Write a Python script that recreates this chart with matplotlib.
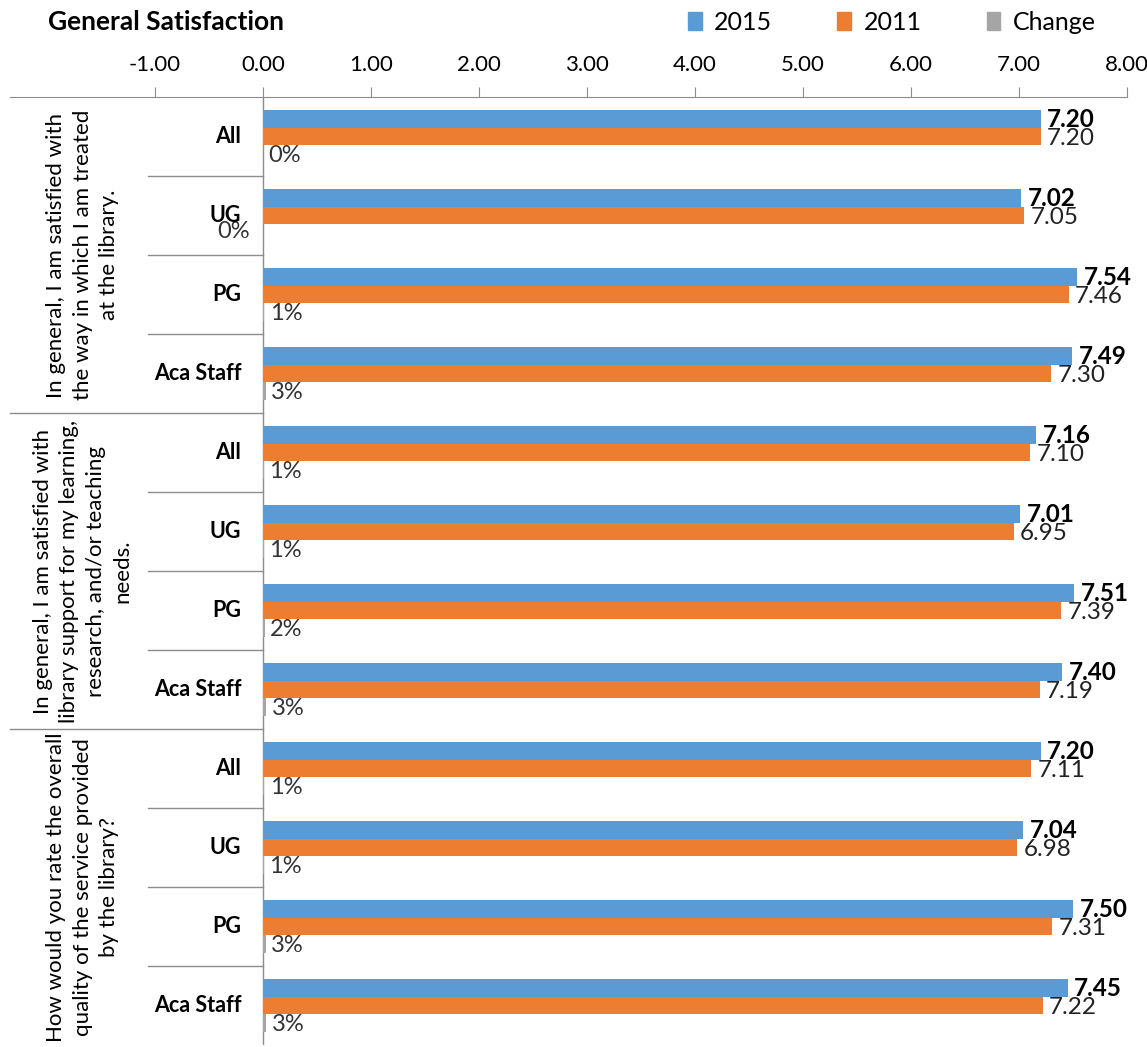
import matplotlib
matplotlib.use('Agg')
import matplotlib.pyplot as plt
from matplotlib.patches import Patch

plt.rcParams['font.family'] = ['Lato', 'DejaVu Sans']

# Data
questions = [
    "In general, I am satisfied with\nthe way in which I am treated\nat the library.",
    "In general, I am satisfied with\nlibrary support for my learning,\nresearch, and/or teaching\nneeds.",
    "How would you rate the overall\nquality of the service provided\nby the library?",
]
groups = ['All', 'UG', 'PG', 'Aca Staff']
scores_2015 = [7.20, 7.02, 7.54, 7.49, 7.16, 7.01, 7.51, 7.40, 7.20, 7.04, 7.50, 7.45]
scores_2011 = [7.20, 7.05, 7.46, 7.30, 7.10, 6.95, 7.39, 7.19, 7.11, 6.98, 7.31, 7.22]
change = [0.000, -0.004, 0.011, 0.026, 0.008, 0.009, 0.016, 0.029, 0.013, 0.009, 0.026, 0.032]
xticks = [-1, 0, 1, 2, 3, 4, 5, 6, 7, 8]

c_2015 = '#5B9BD5'
c_2011 = '#ED7D31'
c_change = '#A5A5A5'
grid_c = '#8C8C8C'

W, H = 1147, 1047
fig = plt.figure(figsize=(W / 100, H / 100), dpi=100)
ax = fig.add_axes([10 / W, 2 / H, (1127 - 10) / W, (1045 - 97) / H])

n = len(scores_2015)
rows = list(range(n))
bh = 0.22

ax.barh([r - bh for r in rows], scores_2015, height=bh, color=c_2015, zorder=2)
ax.barh(rows, scores_2011, height=bh, color=c_2011, zorder=2)
ax.barh([r + bh for r in rows], change, height=bh, color=c_change, zorder=2)

# value labels
for r in rows:
    ax.text(scores_2015[r] + 0.06, r - bh, f"{scores_2015[r]:.2f}", fontsize=17.5,
            fontweight='bold', va='center', ha='left', color='black', zorder=3)
    ax.text(scores_2011[r] + 0.06, r + 0.02, f"{scores_2011[r]:.2f}", fontsize=17.5,
            va='center', ha='left', color='#222222', zorder=3)
    v = change[r]
    lab = f"{round(v * 100):d}%"
    if v < 0:
        ax.text(v - 0.12, r + bh - 0.02, lab, fontsize=17, va='center', ha='right', color='#333333')
    else:
        ax.text(v + 0.05, r + bh + 0.02, lab, fontsize=17, va='center', ha='left', color='#333333')

x_left = -1 - 145 / 108
ax.set_xlim(x_left, 8)
ax.set_ylim(n - 0.5, -0.5)

# top value axis
ax.xaxis.tick_top()
ax.set_xticks(xticks)
ax.set_xticklabels([f"{t:.2f}" for t in xticks], fontsize=16)
ax.tick_params(axis='x', direction='out', length=7, color=grid_c, pad=9)
ax.set_yticks([])
for s in ['left', 'right', 'bottom']:
    ax.spines[s].set_visible(False)
ax.spines['top'].set_color(grid_c)

# category axis at zero
ax.axvline(0, color=grid_c, lw=1, zorder=1)

# separators and category labels
for r in rows:
    ax.text(-0.2, r, groups[r % 4], fontsize=15.5, fontweight='bold', ha='right', va='center')
    if r < n - 1:
        y = r + 0.5
        x0 = x_left if (r + 1) % 4 == 0 else -1.065
        ax.plot([x0, 0], [y, y], color=grid_c, lw=1, clip_on=False)

for g, q in enumerate(questions):
    ax.text(-1.67, g * 4 + 1.5, q, rotation=90, fontsize=16, ha='center', va='center',
            multialignment='center', linespacing=1.4)

fig.text(48 / W, 1 - 22 / H, "General Satisfaction", fontsize=19, fontweight='bold',
         ha='left', va='center')

handles = [Patch(color=c_2015, label='2015'), Patch(color=c_2011, label='2011'),
           Patch(color=c_change, label='Change')]
fig.legend(handles=handles, loc='center left', bbox_to_anchor=(678 / W, 1 - 22 / H),
           ncol=3, frameon=False, fontsize=18, handlelength=0.55, handleheight=0.7,
           handletextpad=0.5, columnspacing=2.6, borderaxespad=0)

fig.savefig('out.png', dpi=100)
